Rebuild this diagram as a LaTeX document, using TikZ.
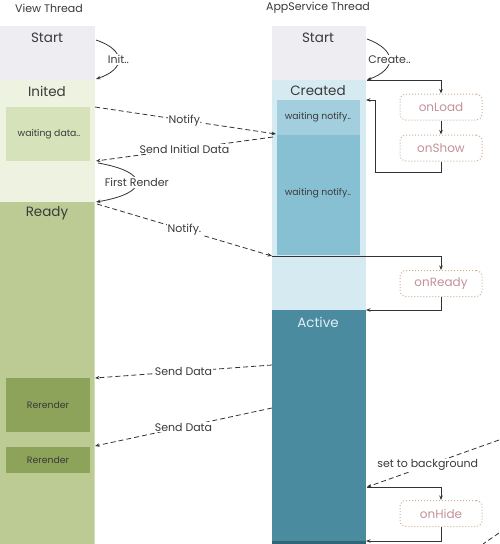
\documentclass[tikz,border=0pt]{standalone}
\usepackage{fontspec}
\setmainfont{Poppins}
\usetikzlibrary{arrows.meta}
\definecolor{cText}{HTML}{3A3A3A}
\definecolor{cStart}{HTML}{EDEDF2}
\definecolor{cInited}{HTML}{EDF2E1}
\definecolor{cWaitD}{HTML}{D6E2BA}
\definecolor{cReady}{HTML}{BCCB93}
\definecolor{cReadyEdge}{HTML}{D3DFB6}
\definecolor{cRerender}{HTML}{8DA35A}
\definecolor{cCreated}{HTML}{D6EAF2}
\definecolor{cWaitN}{HTML}{A3CEDD}
\definecolor{cWaitNb}{HTML}{88C0D3}
\definecolor{cActive}{HTML}{4B8BA0}
\definecolor{cActiveEnd}{HTML}{2F6678}
\definecolor{cActiveTxt}{HTML}{DCEFF5}
\definecolor{cHookBorder}{HTML}{CDB096}
\definecolor{cHookTxt}{HTML}{C4909A}
\definecolor{cLine}{HTML}{333333}
\begin{document}
\begin{tikzpicture}[x=1pt,y=-1pt,
  sec/.style={inner sep=0pt,outer sep=0pt,anchor=north west,draw=none},
  ttl/.style={text=cText,font=\fontsize{13.5}{15}\selectfont,inner sep=0pt},
  small/.style={text=cText,font=\fontsize{9.3}{11}\selectfont,inner sep=0pt},
  head/.style={text=cText,font=\fontsize{11}{13}\selectfont,inner sep=0pt},
  lbl/.style={fill=white,text=cText,font=\fontsize{11}{13}\selectfont,inner sep=1pt},
  hook/.style={draw=cHookBorder,dotted,line width=1pt,rounded corners=6pt,
    minimum width=82pt,minimum height=26pt,inner sep=0pt,text=cHookTxt,
    font=\fontsize{12}{14}\selectfont},
  msg/.style={draw=cLine,line width=0.8pt,dash pattern=on 5pt off 3pt,
    -{Stealth[length=4.5pt,width=3.5pt]}},
  ctl/.style={draw=cLine,line width=0.8pt,-{Stealth[length=4.5pt,width=3.5pt]}},
  bendarrow/.style={draw=cLine,line width=0.8pt,-{Stealth[length=4.5pt,width=3.5pt]}}
]
\useasboundingbox (0,0) rectangle (499,544);
% ---------- headers
\node[head] (hview) at (49,8) {View Thread};
\node[head] (happ) at (318,8) {AppService Thread};
% ---------- View thread column
\node[sec,fill=cStart,minimum width=95pt,minimum height=54pt] (vstart) at (0,26) {};
\node[sec,fill=cInited,minimum width=95pt,minimum height=122pt] (vinited) at (0,80) {};
\node[sec,fill=cWaitD,minimum width=84pt,minimum height=54pt] (vwait) at (6,107) {};
\node[sec,fill=cReady,minimum width=95pt,minimum height=342pt] (vready) at (0,202) {};
\fill[cReadyEdge] (93.5,202) rectangle (95,544);
\node[sec,fill=cRerender,minimum width=84pt,minimum height=54pt] (rr1) at (6,378) {};
\node[sec,fill=cRerender,minimum width=84pt,minimum height=26pt] (rr2) at (6,447) {};
\node[ttl] (tvstart) at (47,38) {Start};
\node[ttl] (tvinited) at (47,91) {Inited};
\node[small] (tvwait) at (49,134) {waiting data..};
\node[small] (trr1) at (48,405) {Rerender};
\node[small] (trr2) at (48,460) {Rerender};
\node[ttl] (tvready) at (47,213) {Ready};
% ---------- AppService thread column
\node[sec,fill=cStart,minimum width=94pt,minimum height=54pt] (astart) at (272,26) {};
\node[sec,fill=cCreated,minimum width=94pt,minimum height=230pt] (acreated) at (272,80) {};
\node[sec,fill=cWaitN,minimum width=83pt,minimum height=35pt] (await1) at (277,100) {};
\node[sec,fill=cWaitNb,minimum width=83pt,minimum height=120pt] (await2) at (277,135) {};
\node[sec,fill=cActive,minimum width=94pt,minimum height=234pt] (aactive) at (272,310) {};
\node[sec,fill=cActiveEnd,minimum width=94pt,minimum height=3pt] (anext) at (272,541) {};
\node[ttl] (tastart) at (318,38) {Start};
\node[ttl] (tacreated) at (318,91) {Created};
\node[small] (tawait1) at (318,117) {waiting notify..};
\node[small] (tawait2) at (318,193) {waiting notify..};
\node[ttl,text=cActiveTxt] (taactive) at (318,322) {Active};
% ---------- lifecycle hooks
\node[hook] (onload) at (441,107) {onLoad};
\node[hook] (onshow) at (441,148) {onShow};
\node[hook] (onready) at (441,283.5) {onReady};
\node[hook] (onhide) at (441,513.5) {onHide};
% ---------- named points on column edges
\coordinate (vInitTop) at (96,40);
\coordinate (vInitEnd) at (96,79);
\coordinate (aCreTop) at (367,39);
\coordinate (aCreEnd) at (367,80);
\coordinate (loopBack) at (366,100);
\coordinate (n1s) at (95,107);
\coordinate (n1e) at (276,134);
\coordinate (sids) at (273,137);
\coordinate (side) at (96,161);
\coordinate (frs) at (98,163);
\coordinate (fre) at (96,202);
\coordinate (n2s) at (97,204);
\coordinate (n2e) at (272,256);
\coordinate (readyBack) at (366,310);
\coordinate (sd1s) at (272,365);
\coordinate (sd1e) at (95,378);
\coordinate (sd2s) at (272,408);
\coordinate (sd2e) at (95,446);
\coordinate (bgs) at (499,440);
\coordinate (bge) at (367,487);
\coordinate (hideBack) at (366,541);
\coordinate (nxs) at (499,533);
\coordinate (nxe) at (483,544);
% ---------- view thread transitions
\draw[bendarrow] (vInitTop) .. controls (126,50) and (126,69) .. (vInitEnd)
  node[lbl,pos=0.5] {Init..};
\draw[bendarrow] (frs) .. controls (150,172) and (150,193) .. (fre)
  node[lbl,pos=0.5] {First Render};
% ---------- app service transitions
\draw[bendarrow] (aCreTop) .. controls (397,50) and (397,69) .. (aCreEnd)
  node[lbl,pos=0.5] {Create..};
\draw[ctl] (aCreEnd) -| (onload.north);
\draw[ctl] (onload.south) -- (onshow.north);
\draw[ctl] (onshow.south) -- ++(0,11) -| (375,100) -- (loopBack);
\draw[ctl] (n2e) -| (onready.north);
\draw[ctl] (onready.south) |- (readyBack);
\draw[ctl] (bge) -| (onhide.north);
\draw[ctl] (onhide.south) |- (hideBack);
% ---------- messages between threads
\draw[msg] (n1s) -- node[lbl,pos=0.5] {Notify.} (n1e);
\draw[msg] (sids) -- node[lbl,pos=0.5] {Send Initial Data} (side);
\draw[msg] (n2s) -- node[lbl,pos=0.5] {Notify.} (n2e);
\draw[msg] (sd1s) -- node[lbl,pos=0.5] {Send Data} (sd1e);
\draw[msg] (sd2s) -- node[lbl,pos=0.5] {Send Data} (sd2e);
\draw[msg] (bgs) -- node[lbl,pos=0.54] {set to background} (bge);
\draw[draw=cLine,line width=0.8pt,dash pattern=on 5pt off 3pt] (nxs) -- (nxe);
\end{tikzpicture}
\end{document}
